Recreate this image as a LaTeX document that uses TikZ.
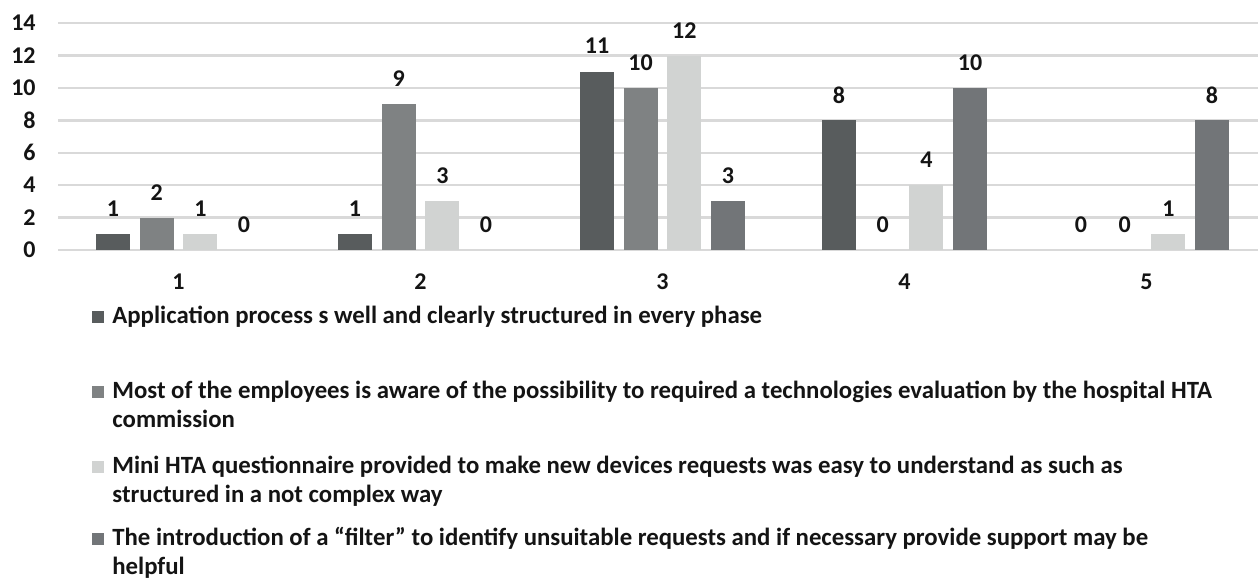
\documentclass[tikz,border=0pt]{standalone}
\usepackage{fontspec}
\setmainfont{Carlito}
\usepackage{tikz}
\definecolor{barone}{RGB}{88,92,93}
\definecolor{bartwo}{RGB}{127,130,131}
\definecolor{barthree}{RGB}{209,211,210}
\definecolor{barfour}{RGB}{114,117,120}
\definecolor{gridgray}{RGB}{217,217,217}
\definecolor{ink}{RGB}{20,20,20}
\tikzset{gridline/.style = {draw=gridgray, line width=1.2pt}}
\tikzset{value/.style = {text=ink, font=\bfseries\fontsize{12}{14}\selectfont, inner sep=0pt}}
\tikzset{legendtext/.style = {text=ink, font=\bfseries\fontsize{12.4}{14.6}\selectfont, align=left, anchor=base west, inner sep=0pt}}

\begin{document}
\begin{tikzpicture}[x=0.5pt, y=-0.5pt]
\useasboundingbox (0,0) rectangle (1258,581);
% grid
\draw[gridline] (58,250) -- (1258,250);
\draw[gridline] (58,217.6) -- (1258,217.6);
\draw[gridline] (58,185.2) -- (1258,185.2);
\draw[gridline] (58,152.8) -- (1258,152.8);
\draw[gridline] (58,120.4) -- (1258,120.4);
\draw[gridline] (58,88) -- (1258,88);
\draw[gridline] (58,55.6) -- (1258,55.6);
\draw[gridline] (58,23.2) -- (1258,23.2);

% y axis
\node[value, anchor=east] (y0) at (36,250) {0};
\node[value, anchor=east] (y2) at (36,217.6) {2};
\node[value, anchor=east] (y4) at (36,185.2) {4};
\node[value, anchor=east] (y6) at (36,152.8) {6};
\node[value, anchor=east] (y8) at (36,120.4) {8};
\node[value, anchor=east] (y10) at (36,88) {10};
\node[value, anchor=east] (y12) at (36,55.6) {12};
\node[value, anchor=east] (y14) at (36,23.2) {14};

% bars
\fill[barone] (96,250) rectangle (130,233.8);
\fill[bartwo] (139.6,250) rectangle (173.6,217.6);
\fill[barthree] (183.4,250) rectangle (217.4,233.8);
\fill[barone] (338,250) rectangle (372,233.8);
\fill[bartwo] (381.6,250) rectangle (415.6,104.2);
\fill[barthree] (425.4,250) rectangle (459.4,201.4);
\fill[barone] (580,250) rectangle (614,71.8);
\fill[bartwo] (623.6,250) rectangle (657.6,88);
\fill[barthree] (667.4,250) rectangle (701.4,55.6);
\fill[barfour] (711,250) rectangle (745,201.4);
\fill[barone] (822,250) rectangle (856,120.4);
\fill[barthree] (909.4,250) rectangle (943.4,185.2);
\fill[barfour] (953,250) rectangle (987,88);
\fill[barthree] (1151.4,250) rectangle (1185.4,233.8);
\fill[barfour] (1195,250) rectangle (1229,120.4);

% values
\node[value] (a1) at (113,209) {1};
\node[value] (b1) at (156.6,193) {2};
\node[value] (c1) at (200.4,209) {1};
\node[value] (d1) at (244,225) {0};
\node[value] (a2) at (355,209) {1};
\node[value] (b2) at (398.6,79) {9};
\node[value] (c2) at (442.4,176) {3};
\node[value] (d2) at (486,225) {0};
\node[value] (a3) at (597,46) {11};
\node[value] (b3) at (640.6,63) {10};
\node[value] (c3) at (684.4,30.5) {12};
\node[value] (d3) at (728,176) {3};
\node[value] (a4) at (839,95.5) {8};
\node[value] (b4) at (882.6,225) {0};
\node[value] (c4) at (926.4,160) {4};
\node[value] (d4) at (970,63) {10};
\node[value] (a5) at (1081,225) {0};
\node[value] (b5) at (1124.6,225) {0};
\node[value] (c5) at (1168.4,209) {1};
\node[value] (d5) at (1212,95.5) {8};

% categories
\node[value] (cat1) at (178.5,282) {1};
\node[value] (cat2) at (420.5,282) {2};
\node[value] (cat3) at (662.5,282) {3};
\node[value] (cat4) at (904.5,282) {4};
\node[value] (cat5) at (1146.5,282) {5};

% legend
\fill[barone] (92,311) rectangle (104,323);
\node[legendtext] (leg1) at (112,324) {Application process s well and clearly structured in every phase};
\fill[bartwo] (92,386) rectangle (104,398);
\node[legendtext] (leg2) at (112,428) {Most of the employees is aware of the possibility to required a technologies evaluation by the hospital HTA\\commission};
\fill[barthree] (92,461) rectangle (104,473);
\node[legendtext] (leg3) at (112,503) {Mini HTA questionnaire provided to make new devices requests was easy to understand as such as\\structured in a not complex way};
\fill[barfour] (92,533) rectangle (104,545);
\node[legendtext] (leg4) at (112,575) {The introduction of a “filter” to identify unsuitable requests and if necessary provide support may be\\helpful};
\end{tikzpicture}
\end{document}
